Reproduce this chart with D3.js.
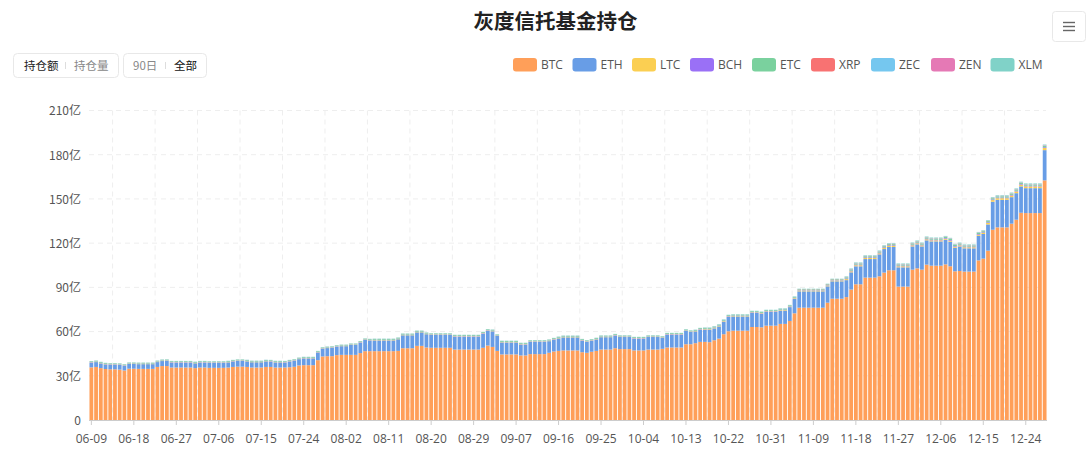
<!DOCTYPE html>
<html><head><meta charset="utf-8">
<script src="https://cdn.jsdelivr.net/npm/d3@7"></script>
<style>
html,body{margin:0;padding:0;background:#fff;overflow:hidden}
svg{display:block}
text{font-family:"Noto Sans CJK SC","Noto Sans",sans-serif}
</style></head><body>
<svg id="c" width="1091" height="456"></svg>
<script>
const seriesNames=["BTC","ETH","LTC","BCH","ETC","XRP","ZEC","ZEN","XLM"];
const seriesColors=["#ff9f59","#689de6","#fbcf52","#9a70f6","#7ad19e","#f87272","#75c7ef","#e579b5","#80d2c8"];
const yTicks=[0,30,60,90,120,150,180,210];
const xTickLabels=["06-09","06-18","06-27","07-06","07-15","07-24","08-02","08-11","08-20","08-29","09-07","09-16","09-25","10-04","10-13","10-22","10-31","11-09","11-18","11-27","12-06","12-15","12-24"];
const BTC=[35.7,36,35.2,34.6,34.4,34.4,34.2,33.6,34.8,34.8,
34.7,34.7,34.7,34.7,36,36.6,36.6,35.6,35.6,35.6,
35.6,35.6,35.2,35.6,35.6,35.4,35.4,35.4,35.4,35.6,
36,36.2,36.2,36,35.6,35.6,35.6,36,36,35.6,
35.6,35.6,35.8,36.1,37,37.2,37.2,37.2,40.6,43.1,
43.3,43.3,44,44.2,44.2,44.2,44.2,45.4,46.7,46.7,
46.7,46.7,46.7,46.7,46.7,46.9,48.7,48.7,48.7,50.3,
50.3,49.2,49,49,49,49,49,47.8,47.8,47.8,
47.8,47.8,47.8,49,50.5,49.6,46.9,44.5,44.5,44.5,
44.5,43.8,43.8,44.7,44.7,44.7,44.7,45.6,46.5,46.9,
47.2,47.2,47.2,47.2,46,45.6,46.3,46.9,47.8,47.8,
47.8,48.7,48.1,48.1,48.1,47.2,47.2,47.2,47.8,47.8,
47.8,48.3,49.2,49.2,49.2,49.2,51.4,51.4,52.1,53,
53,52.8,54.1,55.2,58.2,60.2,60.6,60.6,60.6,60.6,
63.1,63.1,62.9,64,64,64,65.2,65.2,67.2,72.4,
76.2,76.2,76.2,76.2,76.2,76.2,79.6,82.3,82.3,82.3,
83.4,88.5,92.1,92.1,96.6,96.6,96.6,97.5,100,101.6,
101.6,90.5,90.5,90.5,102,102.9,102,105.4,104.7,104.7,
104.7,105.6,104.3,100.9,101.1,100.7,100.7,100.7,108.3,109.5,
114.9,129.1,130.7,130.7,130.7,133.2,135.9,140.6,140.4,140.4,
140.4,140.4,162.6];
const ETH=[3.2,3.3,3.2,3.1,3.1,3.1,3.2,3.2,3.2,3.2,
3.2,3.2,3.2,3.2,3.3,3.4,3.5,3.4,3.4,3.4,
3.4,3.4,3.3,3.4,3.4,3.4,3.4,3.4,3.4,3.5,
3.7,3.9,3.9,3.8,3.6,3.6,3.6,3.8,3.7,3.5,
3.5,3.4,3.9,4.1,4.3,4.6,4.6,4.6,5.2,5.2,
5.5,5.7,5.7,5.9,5.9,6.7,6.7,7.1,7.6,7.3,
7.3,7.3,7.3,7.3,7.3,7.9,8.8,8.8,8.8,9.2,
9.2,9,8.7,8.7,8.7,8.7,8.7,8.8,8.8,8.8,
8.8,8.8,8.8,9.6,10,10.6,10.1,8.1,8.1,8.1,
8.1,7.4,7.4,8.3,8.3,8.3,8.3,7.9,8,8.5,
8.9,8.9,8.9,8.9,7.8,7.4,7.4,7.7,8.4,8.4,
8.4,8.5,8.2,8.2,8.2,8,8,8,8.5,8.5,
8.5,7.4,8.7,8.7,8.7,8.7,9,8.3,8,8.3,
8.3,8.5,8.1,8.3,8.6,9.7,9.7,9.7,9.7,9.7,
9.5,9.5,9.2,9.3,9.3,9.3,9.1,9.1,9.4,10,
11.1,11.1,11.1,11.1,11.1,11.1,11.1,11.8,11.8,11.8,
11.5,11.7,12.2,12.2,12.6,12.6,12.6,14.9,16,15.8,
15.8,13.1,13.1,13.1,15.8,16.3,15.8,16.5,16.5,16.5,
16.5,16.7,16.7,16,16.7,15.8,15.8,15.8,16.7,16.7,
17.8,19,18.7,18.7,18.7,18,18,17.9,16.9,16.9,
16.9,16.9,20.5];
const LTC=[.2,.2,.2,.2,.2,.2,.2,.2,.2,.2,
.2,.2,.2,.2,.2,.2,.2,.2,.2,.2,
.2,.2,.2,.2,.2,.2,.2,.2,.2,.2,
.2,.2,.2,.2,.2,.2,.2,.2,.2,.2,
.2,.2,.2,.2,.2,.2,.2,.2,.2,.2,
.2,.2,.2,.2,.2,.2,.2,.2,.2,.2,
.25,.25,.25,.25,.25,.25,.25,.25,.25,.25,
.25,.25,.25,.25,.25,.25,.25,.25,.25,.25,
.25,.25,.25,.25,.25,.25,.25,.25,.25,.25,
.25,.25,.25,.25,.25,.25,.25,.25,.25,.25,
.25,.25,.25,.25,.25,.25,.25,.25,.25,.25,
.25,.25,.25,.25,.25,.25,.25,.25,.25,.25,
.25,.25,.25,.25,.25,.25,.25,.25,.25,.25,
.35,.35,.35,.35,.35,.35,.35,.35,.35,.35,
.35,.35,.35,.35,.35,.35,.35,.35,.35,.35,
.5,.5,.5,.5,.5,.5,.5,.5,.5,.5,
.7,.7,.7,.7,.7,.7,.7,.7,.7,.7,
.7,.7,.7,.7,.7,.7,.7,.7,.7,.7,
.7,.7,.7,.7,.7,.7,.7,.7,.7,.7,
1,1.1,1.1,1.1,1.1,1.1,1.2,1.2,1.2,1.2,
1.2,1.2,1.5];
const BCH=[.2,.2,.2,.2,.2,.2,.2,.2,.2,.2,
.2,.2,.2,.2,.2,.2,.2,.2,.2,.2,
.2,.2,.2,.2,.2,.2,.2,.2,.2,.2,
.2,.2,.2,.2,.2,.2,.2,.2,.2,.2,
.2,.2,.2,.2,.2,.2,.2,.2,.2,.2,
.2,.2,.2,.2,.2,.2,.2,.2,.2,.2,
.2,.2,.2,.2,.2,.2,.2,.2,.2,.2,
.2,.2,.2,.2,.2,.2,.2,.2,.2,.2,
.2,.2,.2,.2,.2,.2,.2,.2,.2,.2,
.2,.2,.2,.2,.2,.2,.2,.2,.2,.2,
.2,.2,.2,.2,.2,.2,.2,.2,.2,.2,
.2,.2,.2,.2,.2,.2,.2,.2,.2,.2,
.2,.2,.2,.2,.2,.2,.2,.2,.2,.2,
.25,.25,.25,.25,.25,.25,.25,.25,.25,.25,
.25,.25,.25,.25,.25,.25,.25,.25,.25,.25,
.25,.25,.25,.25,.25,.25,.25,.25,.25,.25,
.45,.45,.45,.45,.45,.45,.45,.45,.45,.45,
.45,.45,.45,.45,.45,.45,.45,.45,.45,.45,
.45,.45,.45,.45,.45,.45,.45,.45,.45,.45,
.45,.45,.45,.45,.45,.45,.45,.45,.45,.45,
.45,.45,.5];
const ETC=[.5,.5,.5,.5,.5,.5,.5,.5,.5,.5,
.5,.5,.5,.5,.5,.5,.5,.5,.5,.5,
.5,.5,.5,.5,.5,.5,.5,.5,.5,.5,
.5,.5,.5,.5,.5,.5,.5,.5,.5,.5,
.5,.5,.5,.5,.5,.5,.5,.5,.5,.5,
.5,.5,.5,.5,.5,.5,.5,.5,.5,.5,
.55,.55,.55,.55,.55,.55,.55,.55,.55,.55,
.55,.55,.55,.55,.55,.55,.55,.55,.55,.55,
.55,.55,.55,.55,.55,.55,.55,.55,.55,.55,
.55,.55,.55,.55,.55,.55,.55,.55,.55,.55,
.55,.55,.55,.55,.55,.55,.55,.55,.55,.55,
.55,.55,.55,.55,.55,.55,.55,.55,.55,.55,
.55,.55,.55,.55,.55,.55,.55,.55,.55,.55,
.6,.6,.6,.6,.6,.6,.6,.6,.6,.6,
.6,.6,.6,.6,.6,.6,.6,.6,.6,.6,
.6,.6,.6,.6,.6,.6,.6,.6,.6,.6,
.75,.75,.75,.75,.75,.75,.75,.75,.75,.75,
.75,.75,.75,.75,.75,.75,.75,.75,.75,.75,
.75,.75,.75,.75,.75,.75,.75,.75,.75,.75,
.8,.8,.8,.8,.8,.8,.8,.8,.8,.8,
.8,.8,.9];
const XRP=[0,0,0,0,0,0,0,0,0,0,
0,0,0,0,0,0,0,0,0,0,
0,0,0,0,0,0,0,0,0,0,
0,0,0,0,0,0,0,0,0,0,
0,0,0,0,0,0,0,0,0,0,
0,0,0,0,0,0,0,0,0,0,
0,0,0,0,0,0,0,0,0,0,
0,0,0,0,0,0,0,0,0,0,
0,0,0,0,0,0,0,0,0,0,
0,0,0,0,0,0,0,0,0,0,
0,0,0,0,0,0,0,0,0,0,
0,0,0,0,0,0,0,0,0,0,
0,0,0,0,0,0,0,0,0,0,
0,0,0,0,0,0,0,0,0,0,
0,0,0,0,0,0,0,0,0,0,
.1,.1,.1,.1,.1,.1,.1,.1,.1,.1,
.1,.1,.1,.1,.1,.1,.1,.1,.1,.1,
.1,.1,.1,.1,.1,.1,.1,.1,.1,.1,
.1,.1,.1,.1,.1,.1,.1,.1,.1,.1,
.1,.1,.1,.1,.1,.1,.1,.1,.1,.1,
.1,.1,.15];
const ZEC=[.05,.05,.05,.05,.05,.05,.05,.05,.05,.05,
.05,.05,.05,.05,.05,.05,.05,.05,.05,.05,
.05,.05,.05,.05,.05,.05,.05,.05,.05,.05,
.05,.05,.05,.05,.05,.05,.05,.05,.05,.05,
.05,.05,.05,.05,.05,.05,.05,.05,.05,.05,
.05,.05,.05,.05,.05,.05,.05,.05,.05,.05,
.05,.05,.05,.05,.05,.05,.05,.05,.05,.05,
.05,.05,.05,.05,.05,.05,.05,.05,.05,.05,
.05,.05,.05,.05,.05,.05,.05,.05,.05,.05,
.05,.05,.05,.05,.05,.05,.05,.05,.05,.05,
.05,.05,.05,.05,.05,.05,.05,.05,.05,.05,
.05,.05,.05,.05,.05,.05,.05,.05,.05,.05,
.05,.05,.05,.05,.05,.05,.05,.05,.05,.05,
.08,.08,.08,.08,.08,.08,.08,.08,.08,.08,
.08,.08,.08,.08,.08,.08,.08,.08,.08,.08,
.08,.08,.08,.08,.08,.08,.08,.08,.08,.08,
.15,.15,.15,.15,.15,.15,.15,.15,.15,.15,
.15,.15,.15,.15,.15,.15,.15,.15,.15,.15,
.15,.15,.15,.15,.15,.15,.15,.15,.15,.15,
.15,.15,.15,.15,.15,.15,.15,.15,.15,.15,
.15,.15,.2];
const ZEN=[.03,.03,.03,.03,.03,.03,.03,.03,.03,.03,
.03,.03,.03,.03,.03,.03,.03,.03,.03,.03,
.03,.03,.03,.03,.03,.03,.03,.03,.03,.03,
.03,.03,.03,.03,.03,.03,.03,.03,.03,.03,
.03,.03,.03,.03,.03,.03,.03,.03,.03,.03,
.03,.03,.03,.03,.03,.03,.03,.03,.03,.03,
.03,.03,.03,.03,.03,.03,.03,.03,.03,.03,
.03,.03,.03,.03,.03,.03,.03,.03,.03,.03,
.03,.03,.03,.03,.03,.03,.03,.03,.03,.03,
.03,.03,.03,.03,.03,.03,.03,.03,.03,.03,
.03,.03,.03,.03,.03,.03,.03,.03,.03,.03,
.03,.03,.03,.03,.03,.03,.03,.03,.03,.03,
.03,.03,.03,.03,.03,.03,.03,.03,.03,.03,
.03,.03,.03,.03,.03,.03,.03,.03,.03,.03,
.03,.03,.03,.03,.03,.03,.03,.03,.03,.03,
.05,.05,.05,.05,.05,.05,.05,.05,.05,.05,
.1,.1,.1,.1,.1,.1,.1,.1,.1,.1,
.1,.1,.1,.1,.1,.1,.1,.1,.1,.1,
.1,.1,.1,.1,.1,.1,.1,.1,.1,.1,
.1,.1,.1,.1,.1,.1,.1,.1,.1,.1,
.1,.1,.15];
const XLM=[.12,.12,.12,.12,.12,.12,.12,.12,.12,.12,
.12,.12,.12,.12,.12,.12,.12,.12,.12,.12,
.12,.12,.12,.12,.12,.12,.12,.12,.12,.12,
.12,.12,.12,.12,.12,.12,.12,.12,.12,.12,
.12,.12,.12,.12,.12,.12,.12,.12,.12,.12,
.12,.12,.12,.12,.12,.12,.12,.12,.12,.12,
.15,.15,.15,.15,.15,.15,.15,.15,.15,.15,
.15,.15,.15,.15,.15,.15,.15,.15,.15,.15,
.15,.15,.15,.15,.15,.15,.15,.15,.15,.15,
.15,.15,.15,.15,.15,.15,.15,.15,.15,.15,
.15,.15,.15,.15,.15,.15,.15,.15,.15,.15,
.15,.15,.15,.15,.15,.15,.15,.15,.15,.15,
.15,.15,.15,.15,.15,.15,.15,.15,.15,.15,
.2,.2,.2,.2,.2,.2,.2,.2,.2,.2,
.2,.2,.2,.2,.2,.2,.2,.2,.2,.2,
.2,.2,.2,.2,.2,.2,.2,.2,.2,.2,
.35,.35,.35,.35,.35,.35,.35,.35,.35,.35,
.35,.35,.35,.35,.35,.35,.35,.35,.35,.35,
.35,.35,.35,.35,.35,.35,.35,.35,.35,.35,
.4,.4,.4,.4,.4,.4,.4,.4,.4,.4,
.4,.4,.4];
const seriesValues=[BTC,ETH,LTC,BCH,ETC,XRP,ZEC,ZEN,XLM];

const fmt=d3.utcFormat("%m-%d");
const start=new Date(Date.UTC(2020,5,9));
const categories=BTC.map((_,i)=>fmt(d3.utcDay.offset(start,i)));
const table=categories.map((c,i)=>{const o={cat:c};seriesNames.forEach((n,k)=>o[n]=seriesValues[k][i]);return o;});

const svg=d3.select("#c");
const x=d3.scaleBand().domain(categories).range([89,1047]).paddingInner(0.2).paddingOuter(0.1);
const y=d3.scaleLinear().domain([0,210]).range([420,110.5]);

// grid
const gridG=svg.append("g").attr("stroke","#eeeeee").attr("stroke-dasharray","5 4").attr("fill","none");
yTicks.filter(d=>d>0).forEach(d=>gridG.append("line").attr("x1",89).attr("x2",1046).attr("y1",y(d)).attr("y2",y(d)));
const labelIdx=xTickLabels.map(l=>categories.indexOf(l));
labelIdx.forEach(i=>{
  const c=categories[i+5]; if(!c) return;
  const px=x(c)-x.step()*x.paddingInner()/2;
  if(px<1040) gridG.append("line").attr("x1",px).attr("x2",px).attr("y1",110.5).attr("y2",420);
});

// bars
const stack=d3.stack().keys(seriesNames)(table);
svg.append("g").selectAll("g").data(stack).join("g")
  .attr("fill",(d,i)=>seriesColors[i])
  .selectAll("rect").data(d=>d).join("rect")
  .attr("x",d=>x(d.data.cat)).attr("width",x.bandwidth())
  .attr("y",d=>y(d[1])).attr("height",d=>Math.max(0,y(d[0])-y(d[1])));

// axes
const ax=d3.axisBottom(x).tickValues(xTickLabels).tickSize(5).tickPadding(9.5);
const gx=svg.append("g").attr("transform","translate(0,420)").call(ax);
gx.select(".domain").attr("stroke","#ccc").attr("d","M89,0.5H1047");
gx.selectAll(".tick line").attr("stroke","#ccc");
gx.selectAll("text").attr("fill","#555").attr("font-size",12).style("font-family",'"Open Sans","Noto Sans",sans-serif');
const ay=d3.axisLeft(y).tickValues(yTicks).tickSize(0).tickPadding(0).tickFormat(d=>d===0?"0":d+"亿");
const gy=svg.append("g").attr("transform","translate(81,0.5)").call(ay);
gy.select(".domain").remove();
gy.selectAll("text").attr("fill","#555").attr("font-size",12);

// title
svg.append("text").attr("x",555.5).attr("y",28.5).attr("text-anchor","middle").attr("font-size",20.5).attr("font-weight",700).attr("fill","#222").text("灰度信托基金持仓");

// legend
const legendX=[513,572.5,632,690,752,811,871,931,990.5];
const lg=svg.append("g").selectAll("g").data(seriesNames).join("g").attr("transform",(d,i)=>`translate(${legendX[i]},58)`);
lg.append("rect").attr("width",24).attr("height",13.5).attr("rx",3).attr("fill",(d,i)=>seriesColors[i]);
lg.append("text").attr("x",28).attr("y",11).attr("font-size",12).attr("fill","#555").style("font-family",'"Open Sans","Noto Sans",sans-serif').text(d=>d);

// buttons
function btn(x0,w,sep,items){
  svg.append("rect").attr("x",x0+.5).attr("y",53.5).attr("width",w).attr("height",24).attr("rx",4).attr("fill","#fff").attr("stroke","#e8e8e8");
  items.forEach(t=>svg.append("text").attr("x",t.x).attr("y",69.5).attr("font-size",11.5).attr("fill",t.c).text(t.s));
  svg.append("line").attr("x1",sep).attr("x2",sep).attr("y1",62).attr("y2",69).attr("stroke","#ddd");
}
btn(13,105,65.5,[{x:24,s:"持仓额",c:"#222"},{x:74,s:"持仓量",c:"#888"}]);
btn(123,83,165.5,[{x:133,s:"90日",c:"#888"},{x:174,s:"全部",c:"#111"}]);

// menu
svg.append("rect").attr("x",1052.5).attr("y",11.5).attr("width",33).attr("height",30).attr("rx",3).attr("fill","#fff").attr("stroke","#e8e8e8");
[22.5,26.5,30.5].forEach(v=>svg.append("line").attr("x1",1063).attr("x2",1075).attr("y1",v).attr("y2",v).attr("stroke","#666").attr("stroke-width",1.4));
</script>
</body></html>
